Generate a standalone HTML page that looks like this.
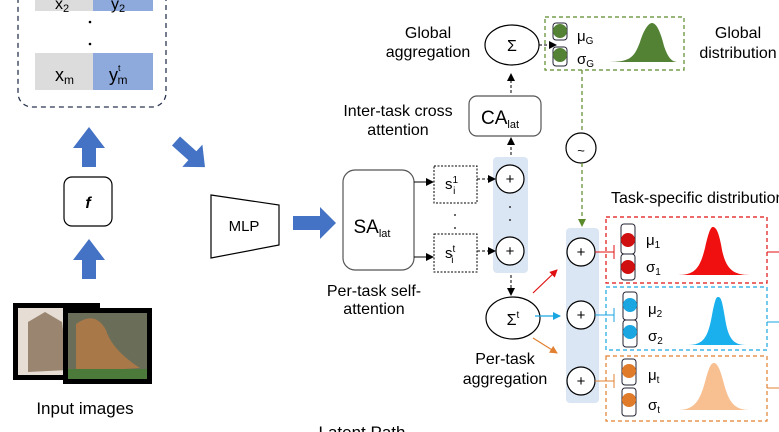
<!DOCTYPE html>
<html><head><meta charset="utf-8"><style>
html,body{margin:0;padding:0;background:#fff;}
svg{display:block;font-family:"Liberation Sans",Arial,sans-serif;}
</style></head><body>
<svg width="779" height="432" viewBox="0 0 779 432" xmlns="http://www.w3.org/2000/svg">
<defs>
<marker id="ak" markerWidth="8" markerHeight="8" refX="7" refY="4" orient="auto" markerUnits="userSpaceOnUse"><path d="M0,0 L8,4 L0,8 z" fill="#000"/></marker>
<marker id="ar" markerWidth="8" markerHeight="8" refX="7" refY="4" orient="auto" markerUnits="userSpaceOnUse"><path d="M0,0 L8,4 L0,8 z" fill="#e01010"/></marker>
<marker id="ab" markerWidth="8" markerHeight="8" refX="7" refY="4" orient="auto" markerUnits="userSpaceOnUse"><path d="M0,0 L8,4 L0,8 z" fill="#1aa6e0"/></marker>
<marker id="ao" markerWidth="8" markerHeight="8" refX="7" refY="4" orient="auto" markerUnits="userSpaceOnUse"><path d="M0,0 L8,4 L0,8 z" fill="#e08030"/></marker>
<marker id="ag" markerWidth="8" markerHeight="8" refX="7" refY="4" orient="auto" markerUnits="userSpaceOnUse"><path d="M0,0 L8,4 L0,8 z" fill="#5a8a2a"/></marker>
</defs>
<!-- left dashed box -->
<rect x="18" y="-20" width="148" height="127" rx="14" fill="none" stroke="#2a3550" stroke-width="1.3" stroke-dasharray="5,4"/>
<rect x="35" y="-10" width="58" height="21" fill="#dcdcdc"/><rect x="93" y="-10" width="60" height="21" fill="#8eaadc"/>
<text x="62" y="9" font-size="16" text-anchor="middle">x<tspan font-size="11" dy="3">2</tspan></text>
<text x="118" y="9" font-size="16" text-anchor="middle">y<tspan font-size="11" dy="3">2</tspan></text>
<circle cx="90" cy="22" r="1.3"/><circle cx="90" cy="44" r="1.3"/>
<rect x="35" y="53" width="58" height="37" fill="#dcdcdc"/><rect x="93" y="53" width="60" height="37" fill="#8eaadc"/>
<text x="55" y="81" font-size="18">x<tspan font-size="12" dy="3">m</tspan></text>
<text x="109" y="81" font-size="18">y<tspan font-size="9" dy="-10">t</tspan><tspan font-size="12" dy="13" dx="-3">m</tspan></text>
<!-- up arrows -->
<path d="M82,167 L82,148 L73,148 L89,127 L105,148 L96,148 L96,167 z" fill="#4472c4"/>
<path d="M82,279 L82,260 L73,260 L89,239 L105,260 L96,260 L96,279 z" fill="#4472c4"/>
<rect x="64" y="177" width="48" height="49" rx="8" fill="#fff" stroke="#000" stroke-width="1.2"/>
<text x="88" y="208" font-size="16" font-weight="bold" font-style="italic" text-anchor="middle">f</text>
<!-- diagonal arrow -->
<g transform="translate(176,141) rotate(42)">
<path d="M0,-6 L22,-6 L22,-15 L39,0 L22,15 L22,6 L0,6 z" fill="#4472c4"/>
</g>
<!-- images -->
<rect x="13" y="303" width="87" height="77" fill="#000"/>
<rect x="18" y="308" width="77" height="67" fill="#e6ddd4"/>
<path d="M28,322 L45,312 L62,322 L68,370 L28,372 z" fill="#9a8570"/>
<rect x="63" y="308" width="89" height="76" fill="#000"/>
<rect x="68" y="313" width="79" height="66" fill="#6a6e58"/>
<path d="M76,324 Q95,310 106,330 Q112,350 140,368 L76,372 z" fill="#a87848"/>
<rect x="68" y="369" width="79" height="10" fill="#4c7a3a"/>
<text x="85" y="414" font-size="17" text-anchor="middle">Input images</text>
<!-- MLP -->
<path d="M211,195 L279,205 L279,245 L211,258 z" fill="#fff" stroke="#000" stroke-width="1.2"/>
<text x="244" y="231" font-size="15" text-anchor="middle">MLP</text>
<path d="M293,216 L320,216 L320,207 L336,223 L320,239 L320,230 L293,230 z" fill="#4472c4"/>
<!-- SA -->
<rect x="343" y="170" width="71" height="100" rx="12" fill="#fff" stroke="#555" stroke-width="1.2"/>
<text x="372" y="233" font-size="19" text-anchor="middle">SA<tspan font-size="11" dy="4">lat</tspan></text>
<text x="374" y="296" font-size="16" text-anchor="middle">Per-task self-</text>
<text x="374" y="314" font-size="16" text-anchor="middle">attention</text>
<line x1="414" y1="182" x2="433" y2="182" stroke="#000" marker-end="url(#ak)"/>
<line x1="414" y1="257" x2="433" y2="257" stroke="#000" marker-end="url(#ak)"/>
<rect x="434" y="166" width="43" height="37" fill="#fff" stroke="#000" stroke-dasharray="2,1.5"/>
<rect x="434" y="234" width="43" height="38" fill="#fff" stroke="#000" stroke-dasharray="2,1.5"/>
<text x="445" y="189" font-size="15">s<tspan font-size="10" dy="-6">1</tspan><tspan font-size="10" dy="11" dx="-5">i</tspan></text>
<text x="445" y="258" font-size="15">s<tspan font-size="10" dy="-6">t</tspan><tspan font-size="10" dy="11" dx="-4">i</tspan></text>
<circle cx="455" cy="215" r="0.9"/><circle cx="455" cy="228" r="0.9"/>
<!-- blue panel -->
<rect x="493" y="157" width="35" height="116" rx="4" fill="#dbe6f4"/>
<line x1="477" y1="179" x2="495" y2="179" stroke="#000" stroke-dasharray="3,2" marker-end="url(#ak)"/>
<line x1="477" y1="251" x2="495" y2="251" stroke="#000" stroke-dasharray="3,2" marker-end="url(#ak)"/>
<circle cx="510" cy="179" r="14" fill="#fff" stroke="#000" stroke-width="1.2"/>
<circle cx="510" cy="251" r="14" fill="#fff" stroke="#000" stroke-width="1.2"/>
<text x="510" y="184" font-size="15" text-anchor="middle">+</text>
<text x="510" y="256" font-size="15" text-anchor="middle">+</text>
<circle cx="510" cy="207" r="0.9"/><circle cx="510" cy="220" r="0.9"/>
<!-- CA -->
<line x1="511" y1="155" x2="511" y2="138" stroke="#000" stroke-dasharray="3,2" marker-end="url(#ak)"/>
<rect x="469" y="96" width="72" height="40" rx="8" fill="#fff" stroke="#555" stroke-width="1.2"/>
<text x="500" y="124" font-size="19" text-anchor="middle">CA<tspan font-size="11" dy="4">lat</tspan></text>
<text x="398" y="116" font-size="16" text-anchor="middle">Inter-task cross</text>
<text x="398" y="135" font-size="16" text-anchor="middle">attention</text>
<line x1="511" y1="93" x2="511" y2="74" stroke="#000" stroke-dasharray="3,2" marker-end="url(#ak)"/>
<ellipse cx="512" cy="45" rx="27" ry="20" fill="#fff" stroke="#000" stroke-width="1.2"/>
<text x="512" y="51" font-size="16" text-anchor="middle">Σ</text>
<text x="428" y="38" font-size="16" text-anchor="middle">Global</text>
<text x="428" y="57" font-size="16" text-anchor="middle">aggregation</text>
<line x1="539" y1="45" x2="556" y2="45" stroke="#000" stroke-dasharray="3,2" marker-end="url(#ak)"/>
<!-- green box -->
<rect x="545" y="17" width="139" height="53" fill="none" stroke="#5a8a2a" stroke-width="1.2" stroke-dasharray="4,3"/>
<rect x="553" y="23" width="14" height="17" rx="3" fill="none" stroke="#223" /><circle cx="560" cy="31" r="7" fill="#548235"/>
<rect x="553" y="47" width="14" height="19" rx="3" fill="none" stroke="#223" /><circle cx="560" cy="55" r="7" fill="#548235"/>
<text x="577" y="41" font-size="15">μ<tspan font-size="10" dy="3">G</tspan></text>
<text x="577" y="64" font-size="15">σ<tspan font-size="10" dy="3">G</tspan></text>
<path d="M606,62 C630,62 634,58 640,42 C645,26 650,23 652,23 C656,23 660,30 664,46 C668,58 672,62 678,62 z" fill="#548235"/>
<text x="738" y="38" font-size="16" text-anchor="middle">Global</text>
<text x="738" y="58" font-size="16" text-anchor="middle">distribution</text>
<line x1="582" y1="70" x2="582" y2="133" stroke="#5a8a2a" stroke-width="1.2" stroke-dasharray="4,3"/>
<circle cx="581" cy="148" r="15" fill="#fff" stroke="#000" stroke-width="1.2"/>
<text x="581" y="155" font-size="13" text-anchor="middle">~</text>
<line x1="582" y1="163" x2="582" y2="226" stroke="#5a8a2a" stroke-width="1.2" stroke-dasharray="4,3" marker-end="url(#ag)"/>
<text x="611" y="203" font-size="16">Task-specific distribution</text>
<!-- per-task aggregation -->
<line x1="511" y1="275" x2="511" y2="295" stroke="#000" stroke-dasharray="3,2" marker-end="url(#ak)"/>
<ellipse cx="513" cy="318" rx="27" ry="21" fill="#fff" stroke="#000" stroke-width="1.2"/>
<text x="513" y="325" font-size="16" text-anchor="middle">Σ<tspan font-size="10" dy="-7">t</tspan></text>
<text x="505" y="364" font-size="16" text-anchor="middle">Per-task</text>
<text x="505" y="384" font-size="16" text-anchor="middle">aggregation</text>
<line x1="533" y1="293" x2="557" y2="270" stroke="#e01010" stroke-width="1.2" marker-end="url(#ar)"/>
<line x1="535" y1="316" x2="560" y2="316" stroke="#1aa6e0" stroke-width="1.2" marker-end="url(#ab)"/>
<line x1="533" y1="338" x2="557" y2="353" stroke="#e08030" stroke-width="1.2" marker-end="url(#ao)"/>
<!-- right panel -->
<rect x="566" y="228" width="33" height="175" rx="4" fill="#dbe6f4"/>
<g stroke="#000" stroke-width="1.2" fill="#fff">
<circle cx="581" cy="252" r="14"/><circle cx="581" cy="315" r="14"/><circle cx="581" cy="381" r="14"/></g>
<text x="581" y="257" font-size="15" text-anchor="middle">+</text>
<text x="581" y="320" font-size="15" text-anchor="middle">+</text>
<text x="581" y="386" font-size="15" text-anchor="middle">+</text>
<line x1="595" y1="252" x2="614" y2="252" stroke="#e01010"/><line x1="614" y1="245" x2="614" y2="259" stroke="#e01010"/>
<line x1="595" y1="315" x2="614" y2="315" stroke="#1aa6e0"/><line x1="614" y1="308" x2="614" y2="322" stroke="#1aa6e0"/>
<line x1="595" y1="381" x2="614" y2="381" stroke="#e08030"/><line x1="614" y1="374" x2="614" y2="388" stroke="#e08030"/>
<!-- red -->
<rect x="606" y="217" width="161" height="66" fill="none" stroke="#e01010" stroke-width="1.2" stroke-dasharray="4,3"/>
<rect x="621" y="224" width="14" height="30" rx="3" fill="none" stroke="#223"/><circle cx="628" cy="240" r="7" fill="#d01010"/>
<rect x="621" y="254" width="14" height="26" rx="3" fill="none" stroke="#223"/><circle cx="628" cy="267" r="7" fill="#d01010"/>
<text x="646" y="245" font-size="15">μ<tspan font-size="10" dy="3">1</tspan></text>
<text x="646" y="272" font-size="15">σ<tspan font-size="10" dy="3">1</tspan></text>
<path d="M678,275 C695,275 700,268 705,248 C709,230 711,227 713,227 C716,227 719,232 722,250 C726,268 732,275 750,275 z" fill="#f01010"/>
<line x1="767" y1="252" x2="779" y2="252" stroke="#e01010"/>
<!-- blue -->
<rect x="606" y="287" width="161" height="63" fill="none" stroke="#1aa6e0" stroke-width="1.2" stroke-dasharray="4,3"/>
<rect x="623" y="292" width="14" height="28" rx="3" fill="none" stroke="#223"/><circle cx="630" cy="305" r="7" fill="#1aa6e0"/>
<rect x="623" y="320" width="14" height="27" rx="3" fill="none" stroke="#223"/><circle cx="630" cy="332" r="7" fill="#1aa6e0"/>
<text x="648" y="314" font-size="15">μ<tspan font-size="10" dy="3">2</tspan></text>
<text x="648" y="341" font-size="15">σ<tspan font-size="10" dy="3">2</tspan></text>
<path d="M688,345 C703,345 708,338 712,315 C715,300 716,297 718,297 C721,297 722,300 725,318 C728,338 733,345 746,345 z" fill="#1ab0ee"/>
<line x1="767" y1="322" x2="779" y2="322" stroke="#1aa6e0"/>
<!-- orange -->
<rect x="606" y="356" width="161" height="65" fill="none" stroke="#e08030" stroke-width="1.2" stroke-dasharray="4,3"/>
<rect x="622" y="359" width="14" height="26" rx="3" fill="none" stroke="#223"/><circle cx="629" cy="371" r="7" fill="#e07b2a"/>
<rect x="622" y="388" width="14" height="28" rx="3" fill="none" stroke="#223"/><circle cx="629" cy="400" r="7" fill="#e07b2a"/>
<text x="648" y="380" font-size="15">μ<tspan font-size="10" dy="3">t</tspan></text>
<text x="648" y="410" font-size="15">σ<tspan font-size="10" dy="3">t</tspan></text>
<path d="M678,410 C695,410 700,400 705,382 C709,367 711,363 714,363 C717,363 720,368 724,384 C729,402 734,410 750,410 z" fill="#f8bf90"/>
<line x1="767" y1="388" x2="779" y2="388" stroke="#e08030"/>
<text x="362" y="438" font-size="17" text-anchor="middle">Latent Path</text>
</svg>
</body></html>
